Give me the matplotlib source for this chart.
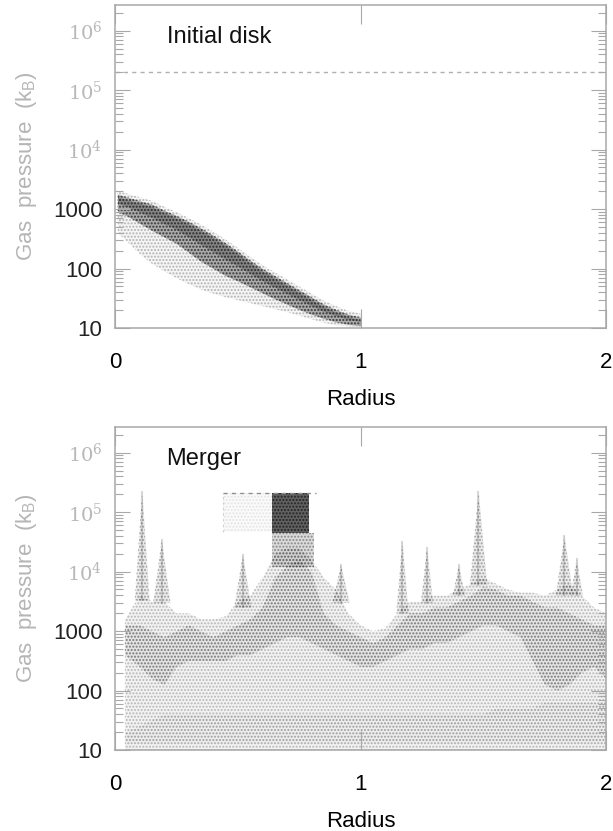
import numpy as np
import matplotlib
matplotlib.use('Agg')
import matplotlib.pyplot as plt
from matplotlib.ticker import LogLocator, NullFormatter

# ---- initial disk: log10 pressure envelopes of the particle band vs radius
disk_r = [0.01, 0.05, 0.10, 0.15, 0.20, 0.25, 0.30, 0.35, 0.40, 0.45, 0.50,
          0.55, 0.60, 0.65, 0.70, 0.75, 0.80, 0.85, 0.90, 0.95, 1.00]
disk_hi = [3.25, 3.20, 3.14, 3.08, 2.98, 2.89, 2.79, 2.68, 2.56, 2.43, 2.29,
           2.14, 2.00, 1.88, 1.76, 1.64, 1.52, 1.40, 1.31, 1.23, 1.18]
disk_lo = [2.95, 2.88, 2.76, 2.64, 2.53, 2.42, 2.27, 2.12, 2.00, 1.88, 1.79,
           1.69, 1.59, 1.49, 1.40, 1.31, 1.23, 1.16, 1.10, 1.06, 1.04]
disk_halo_lo = [2.60, 2.45, 2.25, 2.08, 1.96, 1.84, 1.74, 1.65, 1.58, 1.52, 1.47,
                1.42, 1.37, 1.32, 1.27, 1.21, 1.15, 1.09, 1.05, 1.03, 1.02]

# ---- merger: envelopes of the scattered gas (log10 pressure) vs radius
merger_r = [0.04, 0.10, 0.15, 0.20, 0.25, 0.30, 0.35, 0.40, 0.45, 0.50,
            0.55, 0.60, 0.65, 0.70, 0.75, 0.80, 0.85, 0.90, 0.95, 1.00,
            1.05, 1.10, 1.15, 1.20, 1.25, 1.30, 1.35, 1.40, 1.45, 1.50,
            1.55, 1.60, 1.65, 1.70, 1.75, 1.80, 1.85, 1.90, 1.95, 2.00]
cloud_top = [3.2, 3.6, 3.5, 3.5, 3.3, 3.3, 3.2, 3.2, 3.25, 3.5,
             3.6, 3.9, 4.3, 4.4, 4.4, 4.2, 3.9, 3.7, 3.3, 3.1,
             3.0, 3.05, 3.3, 3.5, 3.5, 3.6, 3.6, 3.7, 3.8, 3.9,
             3.8, 3.7, 3.65, 3.65, 3.6, 3.7, 3.8, 3.6, 3.4, 3.3]
dense_hi = [3.1, 3.1, 3.0, 2.9, 3.0, 3.1, 3.0, 2.9, 3.0, 3.1,
            3.2, 3.4, 3.9, 4.1, 4.2, 4.0, 3.3, 3.1, 3.0, 2.9,
            2.8, 2.9, 3.1, 3.3, 3.3, 3.4, 3.4, 3.5, 3.6, 3.75,
            3.7, 3.6, 3.6, 3.5, 3.4, 3.4, 3.3, 3.2, 3.1, 3.1]
dense_lo = [2.6, 2.4, 2.2, 2.1, 2.4, 2.5, 2.5, 2.5, 2.5, 2.6,
            2.6, 2.7, 2.8, 2.9, 2.9, 2.8, 2.7, 2.6, 2.5, 2.4,
            2.4, 2.5, 2.6, 2.7, 2.7, 2.8, 2.8, 2.9, 3.0, 3.1,
            3.1, 3.0, 2.9, 2.5, 2.1, 2.0, 2.1, 2.3, 2.4, 2.2]
floor_hi = [1.3, 1.4, 1.5, 1.6, 1.6, 1.6, 1.6, 1.6, 1.6, 1.6,
            1.6, 1.6, 1.6, 1.6, 1.6, 1.6, 1.6, 1.6, 1.6, 1.6,
            1.6, 1.6, 1.6, 1.6, 1.6, 1.6, 1.6, 1.6, 1.6, 1.6,
            1.7, 1.7, 1.7, 1.7, 1.8, 1.8, 1.8, 1.8, 1.8, 1.8]

# narrow pressure spikes (shocked gas) in the merger
spike_r = [0.11, 0.19, 0.52, 0.92, 1.17, 1.27, 1.40, 1.48, 1.83, 1.88]
spike_peak = [2.2e5, 3.4e4, 1.9e4, 1.3e4, 3.2e4, 2.5e4, 1.3e4, 2.2e5, 4.0e4, 1.6e4]
spike_base = [3.3e3, 3.0e3, 2.5e3, 3.0e3, 2.0e3, 3.0e3, 4.0e3, 6.0e3, 4.0e3, 4.0e3]
spike_w = [0.03, 0.035, 0.035, 0.035, 0.025, 0.025, 0.025, 0.035, 0.035, 0.025]

# high-pressure clump and its faint extension
clump_r = [0.64, 0.79]
clump_p = [4.5e4, 2.1e5]
clump_tail_p = [1.2e4, 4.5e4]
faint_box_r = [0.44, 0.64]
faint_box_p = [4.6e4, 2.1e5]

p_max = 2.0e5   # dashed pressure ceiling

GRAY = '#a8a8a8'


def stipple(ax, x, y1, y2, shade, dots, hatch='.....'):
    # light wash plus a dotted hatch, so the fill reads like scattered particles
    ax.fill_between(x, y1, y2, color='k', alpha=shade, lw=0)
    if dots > 0:
        ax.fill_between(x, y1, y2, facecolor='none', edgecolor=(0, 0, 0, dots),
                        hatch=hatch, lw=0)


def style_axes(ax, title):
    ax.set_xlim(0, 2)
    ax.set_yscale('log')
    ax.set_ylim(10, 2.7e6)
    for s in ax.spines.values():
        s.set_color(GRAY)
        s.set_linewidth(1.1)

    ax.set_xticks([0, 1, 2])
    ax.set_xticklabels(['0', '1', '2'], fontsize=16, family='Liberation Sans')
    ax.tick_params(axis='x', which='major', direction='in', length=14,
                   color=GRAY, top=True, pad=17)

    yt = [10, 100, 1000, 1e4, 1e5, 1e6]
    ylabels = ['10', '100', '1000', r'$\mathregular{10^{4}}$',
               r'$\mathregular{10^{5}}$', r'$\mathregular{10^{6}}$']
    ax.set_yticks(yt)
    ax.set_yticklabels(ylabels)
    ax.yaxis.set_minor_locator(LogLocator(base=10, subs=np.arange(2, 10), numticks=20))
    ax.yaxis.set_minor_formatter(NullFormatter())
    ax.tick_params(axis='y', which='major', direction='in', length=11,
                   color=GRAY, right=True, pad=9)
    ax.tick_params(axis='y', which='minor', direction='in', length=6,
                   color=GRAY, right=True, width=0.8)
    for lab in ax.get_yticklabels()[:3]:
        lab.set_fontsize(16)
        lab.set_family('Liberation Sans')
        lab.set_color('#222222')
    for lab in ax.get_yticklabels()[3:]:
        lab.set_fontsize(14)
        lab.set_family('DejaVu Serif')
        lab.set_color('#b8b8b8')

    ax.set_xlabel('Radius', fontsize=16, family='Liberation Sans', labelpad=12)
    ax.set_ylabel(r'Gas  pressure  (k$_\mathregular{B}$)', fontsize=16,
                  family='Liberation Sans', color='#b5b5b5', labelpad=10)
    ax.text(0.105, 0.90, title, transform=ax.transAxes,
            fontsize=17, family='Liberation Sans', va='center', color='#111111')


fig = plt.figure(figsize=(6.13, 8.31), dpi=100)
ax1 = fig.add_axes([0.1876, 0.6053, 0.801, 0.3887])
ax2 = fig.add_axes([0.1876, 0.0975, 0.801, 0.3887])

# initial disk band
r = np.array(disk_r)
hi = 10 ** np.array(disk_hi)
lo = 10 ** np.array(disk_lo)
halo_lo = 10 ** np.array(disk_halo_lo)
mid = 10 ** ((np.array(disk_hi) + np.array(disk_lo)) / 2)
stipple(ax1, r, halo_lo, hi * 1.15, 0.04, 0.25)
stipple(ax1, r, lo, hi, 0.30, 0.5)
ax1.fill_between(r, mid, hi / 1.1, color='k', alpha=0.22, lw=0)
ax1.axhline(p_max, color='#b0b0b0', lw=1.0, ls=(0, (3, 3)), zorder=1)

# merger cloud
mr = np.array(merger_r)
stipple(ax2, mr, 10, 10 ** np.array(cloud_top), 0.05, 0.22)
stipple(ax2, mr, 10 ** np.array(dense_lo), 10 ** np.array(dense_hi), 0.06, 0.25)
stipple(ax2, mr, 13, 10 ** np.array(floor_hi), 0.02, 0.1)

for x0, top, base, w in zip(spike_r, spike_peak, spike_base, spike_w):
    stipple(ax2, [x0 - w, x0, x0 + w], [base, base, base], [base, top, base], 0.08, 0.3)
    ax2.plot([x0, x0], [base, top], color='k', alpha=0.15, lw=1.5)

stipple(ax2, clump_r, clump_p[0], clump_p[1], 0.62, 0.6)
stipple(ax2, [clump_r[0], clump_r[1] + 0.02], clump_tail_p[0], clump_tail_p[1], 0.14, 0.35)
stipple(ax2, faint_box_r, faint_box_p[0], faint_box_p[1], 0.02, 0.08)
ax2.plot([faint_box_r[0], clump_r[1] + 0.03], [faint_box_p[1]] * 2,
         color='#909090', lw=1.0, ls=(0, (3, 3)))
ax2.plot([faint_box_r[0]] * 2, faint_box_p, color='#d0d0d0', lw=0.8, ls=(0, (2, 3)))

style_axes(ax1, 'Initial disk')
style_axes(ax2, 'Merger')

fig.savefig('out.png', dpi=100)
